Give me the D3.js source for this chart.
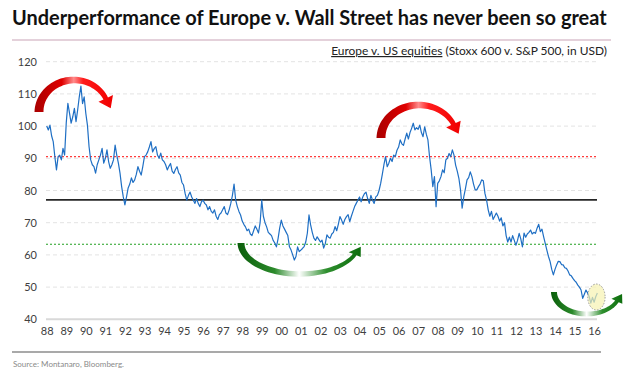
<!DOCTYPE html>
<html>
<head>
<meta charset="utf-8">
<script src="https://cdn.jsdelivr.net/npm/d3@7"></script>
<style>
  body { margin: 0; background: #fff; }
  text { font-family: Lato, "Open Sans", sans-serif; }
</style>
</head>
<body>
<svg width="628" height="372"></svg>
<script>
// Europe v. US equities, monthly, Jan 1988 - Mar 2016
const startYear = 1988;
const values = [
  100, 98.8, 100.3, 97, 95.2, 90.5, 86.4, 90.5, 91, 89.5, 93.1, 91,        // 1988
  101, 107.1, 104, 100.9, 102.9, 105.5, 101.4, 105, 109.1, 112.4, 107, 109.1, // 1989
  104, 100.3, 93.6, 89.5, 88, 87.4, 85.4, 88, 89.5, 91, 93.1, 88.5,        // 1990
  90, 92.6, 89, 86.9, 88, 89.5, 94.1, 91, 88.5, 85.4, 81.2, 78,            // 1991
  75.5, 78, 80.8, 82, 83.9, 82.5, 83.3, 85, 87.4, 86, 84.8, 87.5,          // 1992
  90.5, 91, 92, 93.5, 95.2, 92, 93, 93.6, 91, 90, 91.6, 89.5,              // 1993
  89, 88, 86.4, 87.5, 88.4, 86, 85.3, 86.5, 87.4, 85.5, 84.8, 82.5,        // 1994
  81.7, 79, 77, 78.5, 79.5, 78, 77, 76, 77.5, 76, 75, 76.5,                // 1995
  77, 76, 75.5, 74, 75, 73.5, 73, 74, 72, 71, 72.5, 73,                    // 1996
  74, 75, 73, 72.5, 74, 76, 78.5, 82, 77, 75, 73.5, 72.4,                  // 1997
  70.5, 69.5, 68.7, 67.5, 68, 66.5, 66, 67.5, 69, 68, 66.8, 70,            // 1998
  77, 72, 70, 68.7, 67, 66.5, 66, 64.5, 63.7, 62.5, 65, 68.3,              // 1999
  70.8, 69, 68, 67, 66, 62.5, 61.5, 60, 58.4, 59.5, 62.5, 61,              // 2000
  61.5, 62, 62.6, 64, 66.8, 72.4, 69.3, 67, 65.2, 64.5, 65.6, 64.8,        // 2001
  64, 64.6, 62.1, 63.5, 66.2, 65.5, 65.2, 66.5, 67, 68.8, 67.5, 69.5,      // 2002
  71.9, 70.8, 69.5, 71, 71.9, 72.5, 70.3, 72, 73.5, 75, 76, 77,            // 2003
  78, 76.5, 78, 79, 79.5, 77.5, 76, 78.5, 77, 76, 78, 78.5,                // 2004
  80, 82.2, 85, 88, 90.5, 87.4, 88.5, 90, 89, 91, 90.5, 92.5,              // 2005
  93.5, 95.7, 94.5, 94, 96, 97.8, 96, 98, 99.3, 100.9, 98.8, 99.5,         // 2006
  99, 100.3, 98, 96.7, 99.8, 97.5, 95.7, 90.5, 86.4, 81.2, 84.3, 75,       // 2007
  82.2, 83, 84.3, 86.4, 85.5, 89.5, 90, 91.5, 90.5, 92.6, 91, 87.9,        // 2008
  86, 83.8, 80.2, 74.5, 78, 80.5, 83.3, 84, 85.8, 84.3, 82, 80.2,          // 2009
  80.2, 81.2, 82, 83.3, 83, 79.1, 77, 74, 72, 73.5, 71, 72,                // 2010
  73, 72, 70.5, 71.5, 69, 70, 66, 64, 65.5, 64, 66, 64.5,                  // 2011
  63, 64.5, 66.7, 65, 62.5, 66.8, 65.5, 66.5, 67, 67.7, 66.5, 67,          // 2012
  66.7, 68.3, 69.5, 67.2, 68, 65.7, 63.6, 61.5, 59.5, 57.9, 55.5, 53.8,    // 2013
  55.5, 56.9, 58, 57.9, 57, 56.9, 56, 55.8, 55, 53.8, 53.5, 52.7,          // 2014
  52, 51.5, 50.6, 50, 49.1, 46.5, 47.8, 49.1, 48.2, 47, 45, 46.8,          // 2015
  45.3, 47, 48.2                                                            // 2016
];
const yTicks = [40, 50, 60, 70, 80, 90, 100, 110, 120];
const yearLabels = ["88","89","90","91","92","93","94","95","96","97","98","99","00",
  "01","02","03","04","05","06","07","08","09","10","11","12","13","14","15","16"];
const levels = [90.5, 77.1, 63.3];          // red, black, green
const levelColors = ["#ff3b3b", "#262626", "#22a022"];

const svg = d3.select("svg");
const x = d3.scaleLinear().domain([1988, 2016]).range([46.7, 594.1]);
const y = d3.scaleLinear().domain([40, 120]).range([319.3, 61.7]);
const x0 = 46, x1 = 597;

// fit a text element to a target width by adjusting font size
function fit(sel, w) {
  const n = sel.node();
  const s = parseFloat(sel.attr("font-size"));
  sel.attr("font-size", s * w / n.getComputedTextLength());
}

// title
const title = svg.append("text").attr("x", 12).attr("y", 25)
  .attr("font-size", 19).attr("font-weight", "bold").attr("fill", "#111")
  .text("Underperformance of Europe v. Wall Street has never been so great");
fit(title, 595);
svg.append("line").attr("x1", 12).attr("x2", 611).attr("y1", 40).attr("y2", 40)
  .attr("stroke", "#c9a3b6").attr("stroke-width", 1);

// subtitle
const sub = svg.append("text").attr("x", 607).attr("y", 55).attr("text-anchor", "end")
  .attr("font-size", 11).attr("fill", "#222");
sub.append("tspan").style("text-decoration", "underline").text("Europe v. US equities");
sub.append("tspan").text(" (Stoxx 600 v. S&P 500, in USD)");
fit(sub, 276);

// gridlines
svg.append("g").selectAll("line").data(yTicks.filter(d => d > 40)).join("line")
  .attr("x1", x0).attr("x2", x1).attr("y1", d => y(d)).attr("y2", d => y(d))
  .attr("stroke", "#e3e3e3").attr("stroke-dasharray", "4,3");
svg.append("line").attr("x1", x0).attr("x2", x1).attr("y1", y(40)).attr("y2", y(40))
  .attr("stroke", "#d9d9d9").attr("stroke-width", 2);

// axes (labels only)
const yAxis = svg.append("g").attr("transform", "translate(37,0)")
  .call(d3.axisLeft(y).tickValues(yTicks).tickSize(0).tickPadding(0));
const xAxis = svg.append("g").attr("transform", `translate(0,${y(40) + 8})`)
  .call(d3.axisBottom(x).tickValues(d3.range(1988, 2017)).tickSize(0).tickPadding(0)
    .tickFormat((d, i) => yearLabels[i]));
[yAxis, xAxis].forEach(a => {
  a.select(".domain").remove();
  a.selectAll("text").attr("font-size", 11).attr("fill", "#404040")
    .attr("font-family", "Lato, 'Open Sans', sans-serif");
});

// reference levels
svg.append("g").selectAll("line").data(levels).join("line")
  .attr("x1", x0).attr("x2", x1).attr("y1", d => y(d)).attr("y2", d => y(d))
  .attr("stroke", (d, i) => levelColors[i])
  .attr("stroke-width", (d, i) => i === 1 ? 1.6 : 1.2)
  .attr("stroke-dasharray", (d, i) => i === 1 ? null : "2,2");

// series
const pts = values.map((v, i) => [startYear + i / 12, v]);
svg.append("path").datum(pts)
  .attr("fill", "none").attr("stroke", "#1f6fc4").attr("stroke-width", 1.2)
  .attr("stroke-linejoin", "round")
  .attr("d", d3.line().x(d => x(d[0])).y(d => y(d[1])));

// curved arrows
const defs = svg.append("defs");
function grad(id, stops) {
  const g = defs.append("linearGradient").attr("id", id)
    .attr("x1", 0).attr("x2", 1).attr("y1", 0).attr("y2", 0);
  stops.forEach(s => g.append("stop").attr("offset", s[0]).attr("stop-color", s[1]));
}
grad("redG", [[0, "#a80000"], [0.35, "#e00000"], [0.5, "#ff8c8c"], [0.62, "#ff1c1c"], [1, "#f00000"]]);
grad("greenG", [[0, "#0b5e0b"], [0.3, "#2b8a2b"], [0.5, "#ffffff"], [0.72, "#2f8f2f"], [1, "#0d6e0d"]]);

// dir -1: arc over the top, +1: arc underneath
function arrow(cx, cy, rx, ry, a1, w0, w1, hw, hl, dir, fill) {
  const n = 40, outer = [], inner = [];
  const P = (t, r1, r2) => [cx + r1 * Math.cos(t), cy + dir * r2 * Math.sin(t)];
  for (let i = 0; i <= n; i++) {
    const a = Math.PI - (Math.PI - a1) * i / n;
    const w = w0 + (w1 - w0) * i / n;
    outer.push(P(a, rx + w / 2, ry + w / 2));
    inner.push(P(a, rx - w / 2, ry - w / 2));
  }
  const e = P(a1, rx, ry);
  let tx = rx * Math.sin(a1), ty = -dir * ry * Math.cos(a1);
  const l = Math.hypot(tx, ty); tx /= l; ty /= l;
  const tip = [e[0] + tx * hl, e[1] + ty * hl];
  const poly = outer.concat([P(a1, rx + hw, ry + hw), tip, P(a1, rx - hw, ry - hw)], inner.reverse());
  svg.append("path").attr("d", "M" + poly.map(p => p.join(",")).join("L") + "Z").attr("fill", fill);
}
arrow(74, 112, 35, 32, 25 * Math.PI / 180, 9, 5, 8, 11, -1, "url(#redG)");
arrow(419, 138, 38, 33, 25 * Math.PI / 180, 9, 5, 8, 11, -1, "url(#redG)");
arrow(300, 243, 59, 31, 22 * Math.PI / 180, 7, 4, 6.5, 10, 1, "url(#greenG)");
arrow(587, 292, 33, 22, 25 * Math.PI / 180, 6, 4, 6, 9, 1, "url(#greenG)");

// highlight circle
svg.append("ellipse").attr("cx", 596.4).attr("cy", 297).attr("rx", 8.7).attr("ry", 13)
  .attr("fill", "#f7f2b0").attr("fill-opacity", 0.7)
  .attr("stroke", "#9a9a9a").attr("stroke-width", 1).attr("stroke-dasharray", "1.5,1.5");

// footer
svg.append("line").attr("x1", 12).attr("x2", 601).attr("y1", 352).attr("y2", 352)
  .attr("stroke", "#8c8c8c").attr("stroke-width", 1.3);
svg.append("text").attr("x", 13).attr("y", 367).attr("font-size", 8).attr("fill", "#8a8a8a")
  .text("Source: Montanaro, Bloomberg.");
</script>
</body>
</html>
